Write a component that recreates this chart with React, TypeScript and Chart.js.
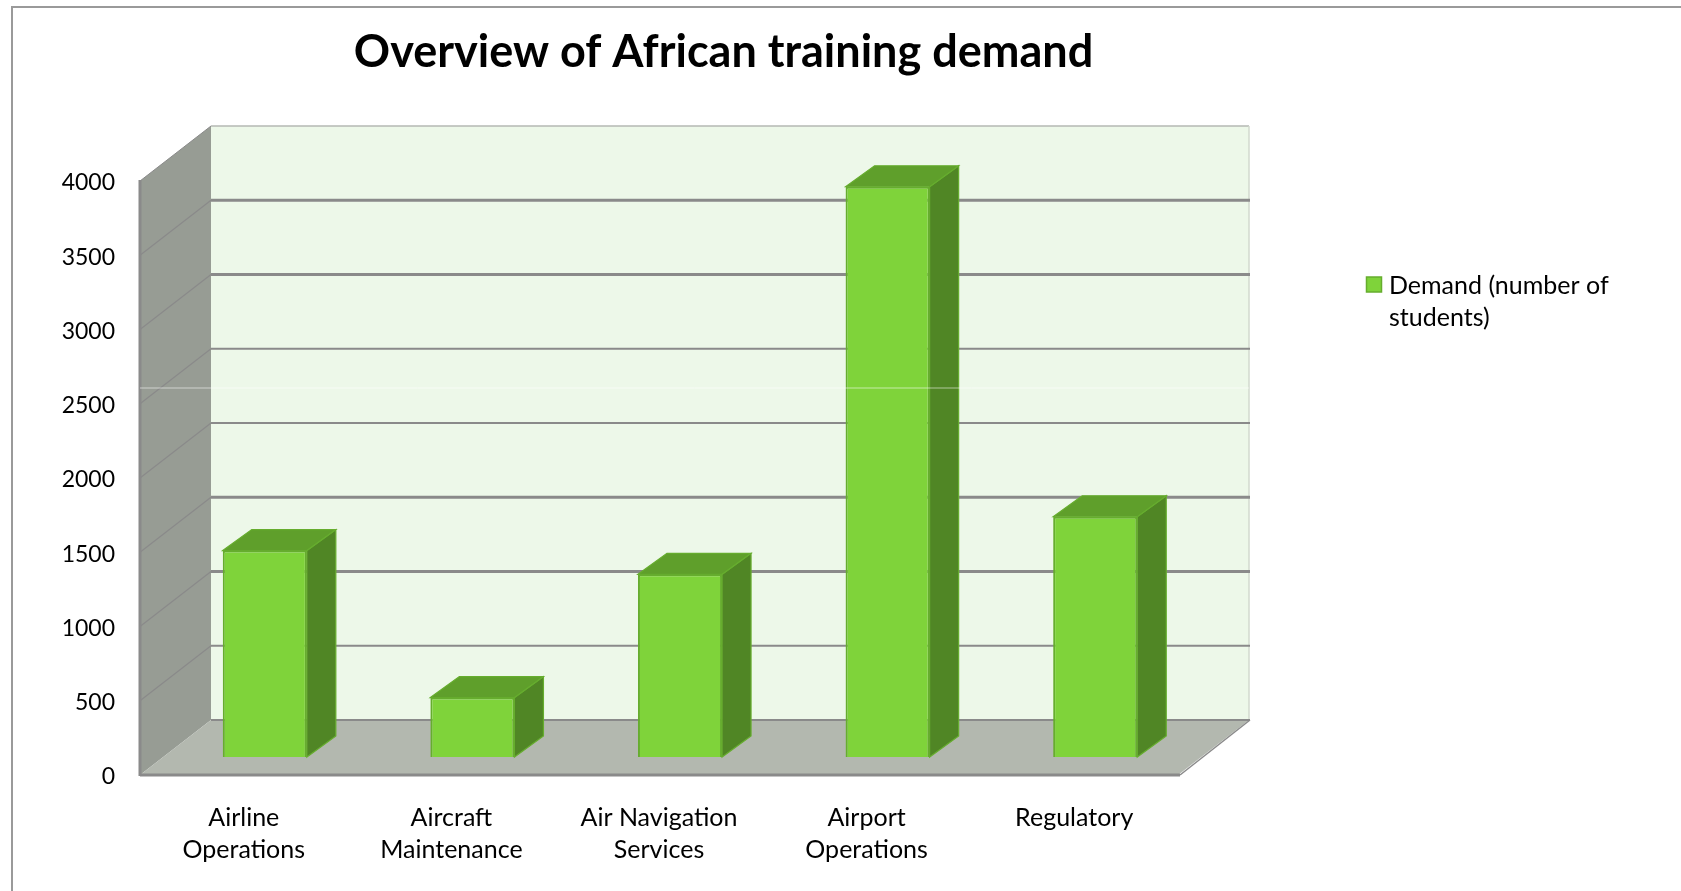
import React, { useEffect, useRef } from "react";
import { Chart, registerables } from "chart.js";

Chart.register(...registerables);

const categories = [
  ["Airline", "Operations"],
  ["Aircraft", "Maintenance"],
  ["Air Navigation", "Services"],
  ["Airport", "Operations"],
  ["Regulatory"],
];
const demand = [1390, 400, 1230, 3840, 1618];
const seriesLabel = ["Demand (number of", "students)"];
const titleText = "Overview of African training demand";
const FONT = "Lato, 'Open Sans', sans-serif";

const WALL = { dx: 71, dy: 55 };
const BAR_OFFSET = { dx: 21, dy: 18 };
const BAR_DEPTH = { dx: 29, dy: 21 };
const thickGrid = [3500, 3000, 1500, 1000];
const C = {
  frame: "#9a9a9a",
  side: "#979c94",
  back: "#edf8e9",
  floor: "#b3b8af",
  grid: "#8a8a8a",
  front: "#7fd33a",
  border: "#66ad2e",
  right: "#508625",
  top: "#5f9f2b",
};

function poly(ctx: CanvasRenderingContext2D, pts: number[][], fill?: string) {
  ctx.beginPath();
  pts.forEach((p, i) => (i ? ctx.lineTo(p[0], p[1]) : ctx.moveTo(p[0], p[1])));
  ctx.closePath();
  if (fill) {
    ctx.fillStyle = fill;
    ctx.fill();
  }
}
function seg(ctx: CanvasRenderingContext2D, a: number[], b: number[], color: string, w: number) {
  ctx.beginPath();
  ctx.moveTo(a[0], a[1]);
  ctx.lineTo(b[0], b[1]);
  ctx.strokeStyle = color;
  ctx.lineWidth = w;
  ctx.stroke();
}

const stage = {
  id: "stage3d",
  afterLayout(chart: any) {
    chart.titleBlock.left = 0;
    chart.titleBlock.right = 1447;
    const lg = chart.legend;
    lg.left = 1360;
    lg.right = 1660;
    lg.top = 273;
    lg.bottom = 347;
  },
  beforeDraw(chart: any) {
    const { ctx, chartArea: a, scales } = chart;
    const y = scales.y;
    const { dx, dy } = WALL;
    ctx.save();
    ctx.fillStyle = "#ffffff";
    ctx.fillRect(0, 0, chart.width, chart.height);
    seg(ctx, [12, 7], [chart.width, 7], C.frame, 2);
    seg(ctx, [12, 6], [12, chart.height], C.frame, 2);

    const t = a.top, b = a.bottom, l = a.left, r = a.right;
    poly(ctx, [[l + dx, t - dy], [r + dx, t - dy], [r + dx, b - dy], [l + dx, b - dy]], C.back);
    poly(ctx, [[l, t], [l + dx, t - dy], [l + dx, b - dy], [l, b]], C.side);
    poly(ctx, [[l, b], [r, b], [r + dx, b - dy], [l + dx, b - dy]], C.floor);

    seg(ctx, [l + dx, t - dy], [r + dx, t - dy], "#b5b8b3", 1.5);
    seg(ctx, [r + dx, t - dy], [r + dx, b - dy], "#d2dace", 1.5);

    y.ticks.forEach((tick: any) => {
      const py = y.getPixelForValue(tick.value);
      if (tick.value > 0 && tick.value < y.max) seg(ctx, [l, py], [l + dx, py - dy], C.grid, 1.2);
      if (tick.value === y.max) seg(ctx, [l, py], [l + dx, py - dy], C.grid, 1);
      if (tick.value < y.max)
        seg(ctx, [l + dx, py - dy], [r + dx + 1, py - dy], C.grid, thickGrid.includes(tick.value) ? 3 : 2);
    });
    seg(ctx, [l, t - 1], [l, b + 1], C.grid, 3);
    seg(ctx, [l, b], [r + 2, b], C.grid, 3);
    seg(ctx, [r + 2, b], [r + dx + 1, b - dy], C.grid, 1.5);
    ctx.restore();
  },
  beforeDatasetsDraw(chart: any) {
    const { ctx } = chart;
    ctx.save();
    ctx.translate(BAR_OFFSET.dx, -BAR_OFFSET.dy);
    const { dx, dy } = BAR_DEPTH;
    chart.getDatasetMeta(0).data.forEach((bar: any) => {
      const { x, y, base, width } = bar.getProps(["x", "y", "base", "width"], true);
      const L = x - width / 2, R = x + width / 2;
      poly(ctx, [[R, y], [R + dx, y - dy], [R + dx, base - dy], [R, base]], C.right);
      ctx.strokeStyle = C.border;
      ctx.lineWidth = 1.2;
      ctx.stroke();
      poly(ctx, [[L, y], [L + dx, y - dy], [R + dx, y - dy], [R, y]], C.top);
      ctx.stroke();
    });
  },
  afterDatasetsDraw(chart: any) {
    const { ctx, chartArea: a } = chart;
    ctx.restore();
    ctx.save();
    seg(ctx, [a.left, 388], [a.right + WALL.dx, 388], "rgba(255,255,255,0.55)", 1);
    ctx.restore();
  },
  afterDraw(chart: any) {
    const { ctx, legend } = chart;
    ctx.save();
    ctx.fillStyle = C.front;
    ctx.strokeStyle = C.border;
    ctx.lineWidth = 1.5;
    ctx.fillRect(legend.left + 6.5, legend.top + 4, 15, 15);
    ctx.strokeRect(legend.left + 6.5, legend.top + 4, 15, 15);
    ctx.restore();
  },
};

export default function App() {
  const ref = useRef<HTMLCanvasElement>(null);
  useEffect(() => {
    const chart = new Chart(ref.current as HTMLCanvasElement, {
      type: "bar",
      data: {
        labels: categories,
        datasets: [
          {
            label: seriesLabel.join(" "),
            data: demand,
            backgroundColor: C.front,
            borderColor: C.border,
            borderWidth: 2,
            barPercentage: 0.405,
            categoryPercentage: 1,
          },
        ],
      },
      options: {
        responsive: false,
        animation: false,
        layout: { padding: { left: 0, right: 503, top: 0, bottom: 0 } },
        plugins: {
          tooltip: { enabled: false },
          title: {
            display: true,
            text: titleText,
            color: "#000",
            font: { family: FONT, size: 45, weight: "bold", lineHeight: 1.2 },
            padding: { top: 25, bottom: 102 },
          },
          legend: {
            position: "chartArea",
            align: "start",
            labels: {
              color: "#000",
              font: { family: FONT, size: 25, lineHeight: 1.28 },
              boxWidth: 16.5,
              boxHeight: 16,
              padding: 0,
              generateLabels: () => [
                {
                  text: seriesLabel,
                  fillStyle: "rgba(0,0,0,0)",
                  strokeStyle: "rgba(0,0,0,0)",
                  lineWidth: 0,
                  datasetIndex: 0,
                },
              ],
            },
          },
        },
        scales: {
          x: {
            type: "category",
            grid: { display: false },
            border: { display: false },
            ticks: {
              color: "#000",
              padding: 19,
              maxRotation: 0,
              autoSkip: false,
              font: { family: FONT, size: 25, lineHeight: 1.28 },
            },
            afterFit: (s: any) => {
              s.height = 116;
            },
          },
          y: {
            min: 0,
            max: 4000,
            grid: { display: false },
            border: { display: false },
            ticks: {
              stepSize: 500,
              color: "#000",
              padding: 17,
              labelOffset: 2,
              font: { family: FONT, size: 23 },
              callback: (v: any) => String(v),
            },
            afterFit: (s: any) => {
              s.width = 140;
            },
          },
        },
      },
      plugins: [stage],
    } as any);
    return () => chart.destroy();
  }, []);
  return (
    <div style={{ position: "absolute", left: 0, top: 0, width: 1681, height: 891, overflow: "hidden", background: "#fff" }}>
      <canvas ref={ref} width={1681} height={891} style={{ display: "block" }} />
    </div>
  );
}
